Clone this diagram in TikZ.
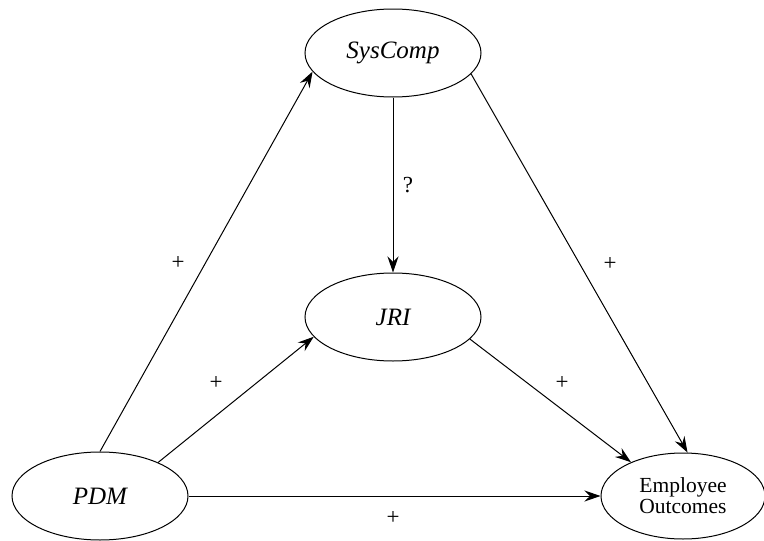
\documentclass[tikz,border=0pt]{standalone}
\usepackage{fontspec}
\setmainfont{Liberation Serif}
\usetikzlibrary{arrows.meta,shapes.geometric}
\begin{document}
\begin{tikzpicture}[x=1pt,y=-1pt,
  construct/.style={draw, ellipse, line width=1pt, inner sep=0pt,
    minimum width=176pt, minimum height=88pt, font=\fontsize{25}{27}\selectfont\itshape},
  outcome/.style={construct, minimum width=164pt, minimum height=86pt,
    font=\fontsize{21.5}{23}\selectfont, align=center},
  link/.style={line width=1pt, -{Stealth[length=16pt,width=11pt,inset=5.5pt]}},
  sign/.style={font=\fontsize{23}{25}\selectfont}]
\useasboundingbox (0,0) rectangle (764,541);

% constructs
\node[construct] (sys) at (393,53) {SysComp};
\node[construct] (jri) at (393,317) {JRI};
\node[construct] (pdm) at (100,496) {PDM};
\node[outcome]   (eo)  at (683,496) {Employee\\[-2pt]Outcomes};

% paths
\draw[link] (pdm.north) -- (sys.193);
\draw[link] (pdm.30) -- (jri.194);
\draw[link] (pdm.east) -- (eo.west);
\draw[link] (sys.south) -- (jri.north);
\draw[link] (sys.345) -- (eo.84);
\draw[link] (jri.344) -- (eo.147);

% signs of the effects
\node[sign] (s1) at (178,263) {+};
\node[sign] (s2) at (408,185) {?};
\node[sign] (s3) at (216,383) {+};
\node[sign] (s4) at (610,264) {+};
\node[sign] (s5) at (562,383) {+};
\node[sign] (s6) at (393,518) {+};
\end{tikzpicture}
\end{document}
